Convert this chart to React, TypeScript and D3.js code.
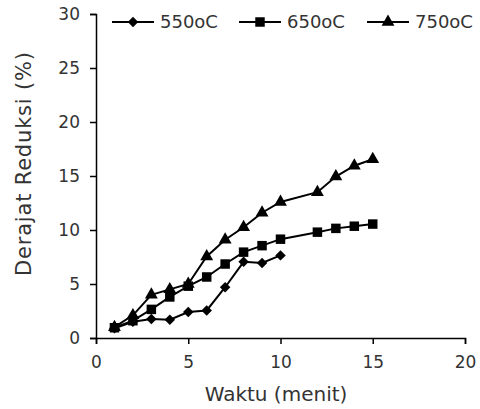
import React, { useEffect, useRef } from "react";
import * as d3 from "d3";

// waktu (menit) for each series
const x550 = [1, 2, 3, 4, 5, 6, 7, 8, 9, 10];
const y550 = [0.9, 1.5, 1.75, 1.7, 2.4, 2.55, 4.7, 7.05, 6.95, 7.65];

const x650 = [1, 2, 3, 4, 5, 6, 7, 8, 9, 10, 12, 13, 14, 15];
const y650 = [0.95, 1.6, 2.65, 3.8, 4.8, 5.65, 6.85, 7.95, 8.55, 9.15, 9.8, 10.15, 10.35, 10.55];

const x750 = [1, 2, 3, 4, 5, 6, 7, 8, 9, 10, 12, 13, 14, 15];
const y750 = [1.0, 2.1, 4.0, 4.5, 5.0, 7.55, 9.1, 10.25, 11.6, 12.6, 13.5, 14.95, 15.95, 16.55];

const seriesNames = ["550oC", "650oC", "750oC"];
const xTicks = [0, 5, 10, 15, 20];
const yTicks = [0, 5, 10, 15, 20, 25, 30];

const App = () => {
  const svgRef = useRef<SVGSVGElement>(null);

  useEffect(() => {
    const svg = d3.select(svgRef.current);
    svg.selectAll("*").remove();

    const font = "DejaVu Sans, Verdana, sans-serif";
    const x = d3.scaleLinear().domain([0, 20]).range([96, 465]);
    const y = d3.scaleLinear().domain([0, 30]).range([338, 14]);

    // axes
    const gx = svg.append("g").attr("transform", "translate(0,338)").call(
      d3.axisBottom(x).tickValues(xTicks).tickSizeOuter(0).tickSize(6).tickPadding(12)
    );
    const gy = svg.append("g").attr("transform", "translate(96,0)").call(
      d3.axisLeft(y).tickValues(yTicks).tickSizeOuter(0).tickSize(6).tickPadding(10)
    );
    [gx, gy].forEach((g) => {
      g.select(".domain").attr("stroke", "#000").attr("stroke-width", 1.5);
      g.selectAll(".tick line").attr("stroke", "#000").attr("stroke-width", 1.5);
      g.selectAll(".tick text")
        .attr("fill", "#333")
        .style("font-family", font)
        .style("font-size", "17px");
    });

    // titles
    svg.append("text")
      .attr("x", 276).attr("y", 401)
      .attr("text-anchor", "middle")
      .style("font-family", font).style("font-size", "20px").attr("fill", "#333")
      .text("Waktu (menit)");
    svg.append("text")
      .attr("transform", "translate(31,164) rotate(-90)")
      .attr("text-anchor", "middle")
      .attr("textLength", 224)
      .attr("lengthAdjust", "spacing")
      .style("font-family", font).style("font-size", "21px").attr("fill", "#333")
      .text("Derajat Reduksi (%)");

    const symbols = [
      d3.symbol().type(d3.symbolSquare).size(55),
      d3.symbol().type(d3.symbolSquare).size(90),
      d3.symbol().type(d3.symbolTriangle).size(72),
    ];
    const rot = ["rotate(45)", "", ""];
    const data = [
      x550.map((v, i) => [v, y550[i]]),
      x650.map((v, i) => [v, y650[i]]),
      x750.map((v, i) => [v, y750[i]]),
    ];
    const line = d3.line<number[]>().x((d) => x(d[0])).y((d) => y(d[1]));

    data.forEach((pts, s) => {
      svg.append("path")
        .attr("d", line(pts))
        .attr("fill", "none")
        .attr("stroke", "#000")
        .attr("stroke-width", 2);
      svg.selectAll(null)
        .data(pts)
        .enter()
        .append("path")
        .attr("d", symbols[s]())
        .attr("transform", (d) => `translate(${x(d[0])},${y(d[1])}) ${rot[s]}`)
        .attr("fill", "#000");
    });

    // legend
    const legendX = [112, 239, 367];
    seriesNames.forEach((name, s) => {
      const lx = legendX[s];
      svg.append("line")
        .attr("x1", lx).attr("x2", lx + 42)
        .attr("y1", 22).attr("y2", 22)
        .attr("stroke", "#000").attr("stroke-width", 2);
      svg.append("path")
        .attr("d", symbols[s]())
        .attr("transform", `translate(${lx + 21},22) ${rot[s]}`)
        .attr("fill", "#000");
      svg.append("text")
        .attr("x", lx + 48).attr("y", 28)
        .style("font-family", font).style("font-size", "18px").attr("fill", "#333")
        .text(name);
    });
  }, []);

  return (
    <svg
      ref={svgRef}
      width={480}
      height={409}
      style={{ position: "absolute", left: 0, top: 0, background: "#fff" }}
    />
  );
};

export default App;
